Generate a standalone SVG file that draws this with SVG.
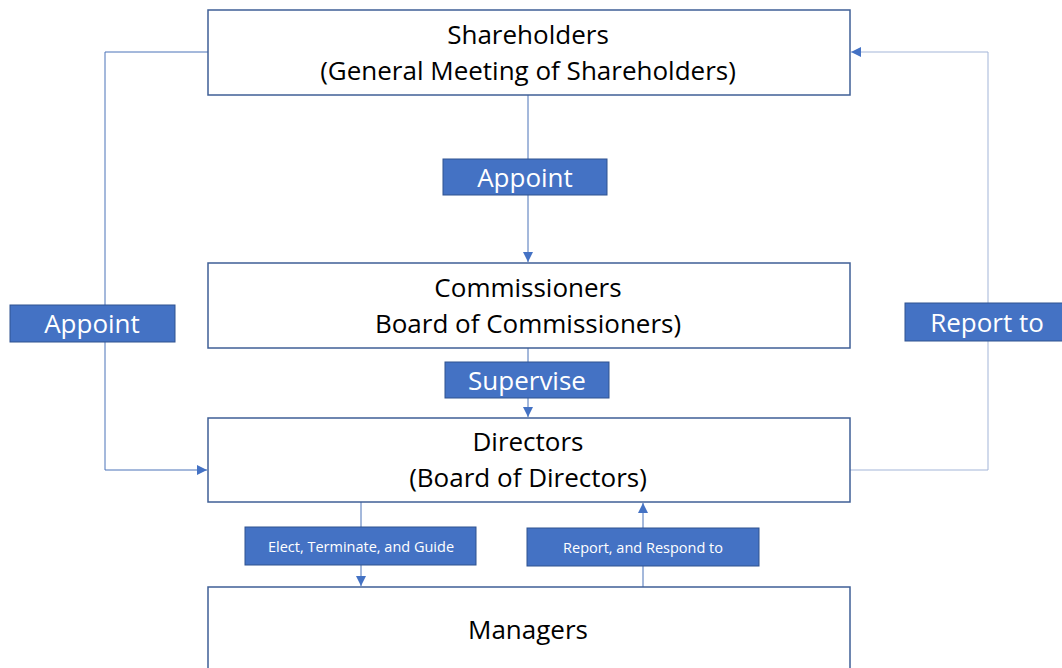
<svg xmlns="http://www.w3.org/2000/svg" width="1062" height="668" viewBox="0 0 1062 668">
<style>
.box{fill:#fff;stroke:#3f5f96;stroke-width:1.5}
.lbl{fill:#4472c4;stroke:#2f528f;stroke-width:1}
.t{font-family:"Open Sans","Liberation Sans",sans-serif;fill:#000;text-anchor:middle;font-size:26px}
.w{font-family:"Open Sans","Liberation Sans",sans-serif;fill:#fff;text-anchor:middle;font-size:26px}
.ws{font-family:"Open Sans","Liberation Sans",sans-serif;fill:#fff;text-anchor:middle;font-size:14.5px}
.c{fill:none;stroke:#4a72b8;stroke-width:1}
</style>
<defs>
<marker id="a" viewBox="0 0 10 10" refX="10" refY="5" markerWidth="10" markerHeight="10" markerUnits="userSpaceOnUse" orient="auto"><path d="M0,0L10,5L0,10z" fill="#4472c4"/></marker>
</defs>
<g id="connectors">
<path class="c" d="M208,52H105V470H207" marker-end="url(#a)"/>
<path class="c" style="stroke:#a3b5d8" d="M850,470H988V52H851" marker-end="url(#a)"/>
<path class="c" d="M528,95V262" marker-end="url(#a)"/>
<path class="c" d="M528,348V417" marker-end="url(#a)"/>
<path class="c" d="M361,502V586" marker-end="url(#a)"/>
<path class="c" d="M643,587V503" marker-end="url(#a)"/>
</g>
<g id="shareholders"><rect class="box" x="208" y="10" width="642" height="85"/><text class="t" x="528" y="44">Shareholders</text><text class="t" x="528" y="80">(General Meeting of Shareholders)</text></g>
<g id="commissioners"><rect class="box" x="208" y="263" width="642" height="85"/><text class="t" x="528" y="297">Commissioners</text><text class="t" x="528" y="333">Board of Commissioners)</text></g>
<g id="directors"><rect class="box" x="208" y="418" width="642" height="84"/><text class="t" x="528" y="451">Directors</text><text class="t" x="528" y="487">(Board of Directors)</text></g>
<g id="managers"><rect class="box" x="208" y="587" width="642" height="100"/><text class="t" x="528" y="639">Managers</text></g>
<g id="label-appoint-center"><rect class="lbl" x="443" y="159" width="164" height="36"/><text class="w" x="525" y="187">Appoint</text></g>
<g id="label-supervise"><rect class="lbl" x="445" y="362" width="164" height="36"/><text class="w" x="527" y="390">Supervise</text></g>
<g id="label-appoint-left"><rect class="lbl" x="10" y="305" width="165" height="37"/><text class="w" x="92" y="333">Appoint</text></g>
<g id="label-report"><rect class="lbl" x="905" y="303" width="160" height="38"/><text class="w" x="987" y="332">Report to</text></g>
<g id="label-elect"><rect class="lbl" x="245" y="527" width="231" height="38"/><text class="ws" x="361" y="552">Elect, Terminate, and Guide</text></g>
<g id="label-respond"><rect class="lbl" x="527" y="528" width="232" height="38"/><text class="ws" x="643" y="553">Report, and Respond to</text></g>
</svg>
